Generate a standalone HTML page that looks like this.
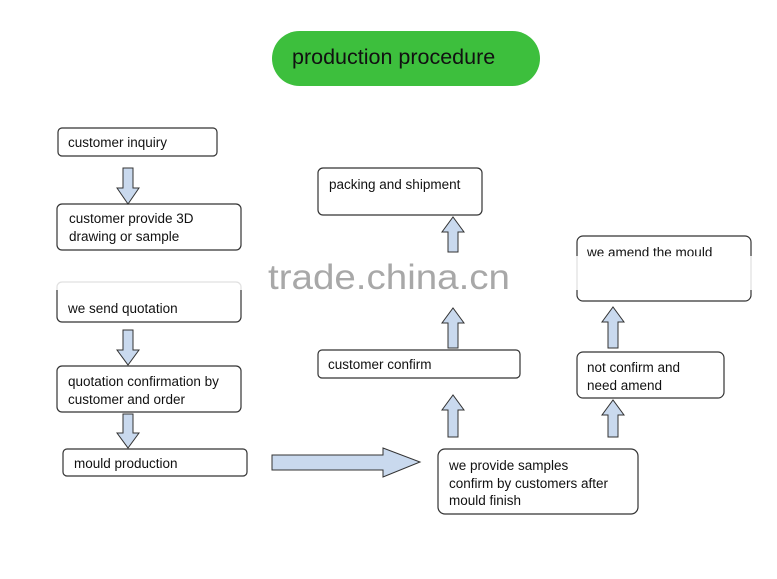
<!DOCTYPE html>
<html><head><style>body{margin:0;background:#fff}svg{display:block}</style></head><body>
<svg width="777" height="579" viewBox="0 0 777 579" xmlns="http://www.w3.org/2000/svg" font-family="Liberation Sans, Arial, sans-serif">
<rect width="777" height="579" fill="#fff"/>
<rect x="272" y="31" width="268" height="55" rx="27.5" fill="#3dbf3d"/>
<text x="292" y="64" font-size="21.5" fill="#111">production procedure</text>
<g fill="#fff" stroke="#333" stroke-width="1.2">
<rect x="58" y="128" width="159" height="28" rx="4"/>
<rect x="57" y="204" width="184" height="46" rx="5"/>
<rect x="57" y="282" width="184" height="40" rx="5"/>
<rect x="57" y="366" width="184" height="46" rx="5"/>
<rect x="63" y="449" width="184" height="27" rx="4"/>
<rect x="318" y="168" width="164" height="47" rx="5"/>
<rect x="318" y="350" width="202" height="28" rx="4"/>
<rect x="438" y="449" width="200" height="65" rx="7"/>
<rect x="577" y="236" width="174" height="65" rx="6"/>
<rect x="577" y="352" width="147" height="46" rx="6"/>
</g>
<g font-size="13.5" fill="#111">
<text x="68" y="147">customer inquiry</text>
<text x="69" y="223">customer provide 3D</text>
<text x="69" y="241">drawing or sample</text>
<text x="68" y="313">we send quotation</text>
<text x="68" y="386">quotation confirmation by</text>
<text x="68" y="404">customer and order</text>
<text x="74" y="468">mould production</text>
<text x="329" y="189">packing and shipment</text>
<text x="328" y="369">customer confirm</text>
<text x="449" y="470">we provide samples</text>
<text x="449" y="488">confirm by customers after</text>
<text x="449" y="505">mould finish</text>
<text x="587" y="257">we amend the mould</text>
<text x="587" y="372">not confirm and</text>
<text x="587" y="390">need amend</text>
</g>
<rect x="40" y="256" width="720" height="34" fill="#fff" opacity="0.85"/>
<text x="268" y="289" font-size="35" fill="#a8a8a8" textLength="242" lengthAdjust="spacingAndGlyphs">trade.china.cn</text>
<g fill="#c9d9ee" stroke="#333" stroke-width="1">
<path d="M123 168h10v20h6l-11 16l-11-16h6z"/>
<path d="M123 330h10v20h6l-11 15l-11-15h6z"/>
<path d="M123 414h10v19h6l-11 15l-11-15h6z"/>
<path d="M448 252v-20h-6l11-15l11 15h-6v20z"/>
<path d="M448 348v-25h-6l11-15l11 15h-6v25z"/>
<path d="M448 437v-27h-6l11-15l11 15h-6v27z"/>
<path d="M608 348v-26h-6l11-15l11 15h-6v26z"/>
<path d="M608 437v-22h-6l11-15l11 15h-6v22z"/>
<path d="M272 455h111v-7l37 14l-37 15v-7h-111z"/>
</g>
</svg>
</body></html>
